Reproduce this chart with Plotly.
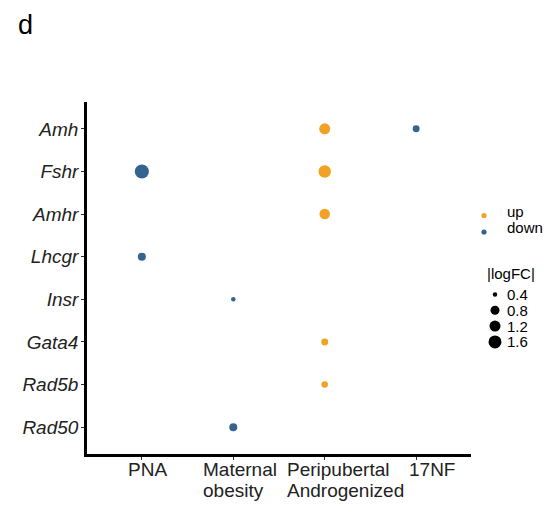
import plotly.graph_objects as go
import numpy as np

genes = ["Amh", "Fshr", "Amhr", "Lhcgr", "Insr", "Gata4", "Rad5b", "Rad50"]
models = ["PNA", "Maternal<br>obesity", "Peripubertal<br>Androgenized", "17NF"]

pt_gene = ["Amh", "Amh", "Fshr", "Fshr", "Amhr", "Lhcgr", "Insr", "Gata4", "Rad5b", "Rad50"]
pt_model = [3, 4, 1, 3, 3, 1, 2, 3, 3, 2]
pt_logfc = [1.2, 0.62, 1.85, 1.5, 1.1, 0.71, 0.4, 0.62, 0.58, 0.71]
pt_dir = ["up", "down", "down", "up", "up", "down", "down", "up", "up", "down"]

directions = ["up", "down"]
legend_sizes = [0.4, 0.8, 1.2, 1.6]

# style: left edge of each (left-aligned) x label block relative to its tick, px
label_xshift = [-15, -31, -39, -8]

COL = {"up": "#F1A124", "down": "#34648F"}
OFF = 8  # page body margin
W, H = 557 - 2 * OFF, 506 - OFF


def size_px(v):
    return np.interp(v, [0.4, 0.8, 1.2, 1.6, 2.0], [4.5, 9.0, 11.0, 13.0, 14.8])


def px(x):
    return (x - OFF) / W


def py(y):
    return 1 - (y - OFF) / H


gene_idx = {g: i + 1 for i, g in enumerate(genes)}

fig = go.Figure()
for d in directions:
    sel = [i for i in range(len(pt_gene)) if pt_dir[i] == d]
    fig.add_trace(go.Scatter(
        x=[pt_model[i] for i in sel],
        y=[gene_idx[pt_gene[i]] for i in sel],
        mode="markers",
        marker=dict(color=COL[d], opacity=1,
                    size=[float(size_px(pt_logfc[i])) for i in sel], line=dict(width=0)),
        showlegend=False, hoverinfo="skip",
    ))

shapes = []
annotations = []
font = "Liberation Sans, Arial, sans-serif"

# x category labels (left-aligned lines under each tick)
for i, lab in enumerate(models):
    for j, line in enumerate(lab.split("<br>")):
        annotations.append(dict(text=line, x=i + 1, xref="x", y=py(469 + 21 * j), yref="paper",
                                xanchor="left", yanchor="middle", xshift=label_xshift[i],
                                showarrow=False, borderpad=0,
                                font=dict(size=19, family=font, color="#222")))

# direction legend
for k, d in enumerate(directions):
    cy = 215.5 + 16.5 * k
    r = 2.6
    shapes.append(dict(type="circle", xref="paper", yref="paper",
                       xsizemode="pixel", ysizemode="pixel",
                       xanchor=px(484), yanchor=py(cy),
                       x0=-r, x1=r, y0=-r, y1=r,
                       fillcolor=COL[d], line=dict(width=0)))
    annotations.append(dict(text=d, x=px(506), y=py(cy - 4), xref="paper", yref="paper",
                            xanchor="left", yanchor="middle", showarrow=False, borderpad=0,
                            font=dict(size=15, family=font, color="black")))

# size legend
annotations.append(dict(text="|logFC|", x=px(486), y=py(273.5), xref="paper", yref="paper",
                        xanchor="left", yanchor="middle", showarrow=False, borderpad=0,
                        font=dict(size=15, family=font, color="black")))
for k, v in enumerate(legend_sizes):
    cy = 294.5 + 15.8 * k
    r = float(size_px(v)) / 2
    shapes.append(dict(type="circle", xref="paper", yref="paper",
                       xsizemode="pixel", ysizemode="pixel",
                       xanchor=px(495), yanchor=py(cy),
                       x0=-r, x1=r, y0=-r, y1=r,
                       fillcolor="black", line=dict(width=0)))
    annotations.append(dict(text=f"{v:.1f}", x=px(506), y=py(cy), xref="paper", yref="paper",
                            xanchor="left", yanchor="middle", showarrow=False, borderpad=0,
                            font=dict(size=15, family=font, color="black")))

annotations.append(dict(text="d", x=px(25), y=py(25), xref="paper", yref="paper",
                        xanchor="center", yanchor="middle", showarrow=False,
                        font=dict(size=27, family=font, color="black")))

fig.update_layout(
    width=W, height=H,
    margin=dict(l=0, r=0, t=0, b=0, autoexpand=False),
    plot_bgcolor="white", paper_bgcolor="white",
    font=dict(family=font, color="black"),
    showlegend=False,
    xaxis=dict(domain=[px(87), px(471)], range=[0.4, 4.6], tickvals=[1, 2, 3, 4],
               showticklabels=False,
               showline=True, linecolor="black", linewidth=2.6, mirror=False,
               ticks="outside", ticklen=3, tickcolor="#333", tickwidth=1,
               showgrid=False, zeroline=False, automargin=False),
    yaxis=dict(domain=[py(454), py(102)], range=[8.63, 0.37], tickvals=list(range(1, 9)),
               ticktext=[f"<i>{g}</i>" for g in genes],
               showline=True, linecolor="black", linewidth=2.6,
               ticks="outside", ticklen=3, tickcolor="#333", tickwidth=1,
               ticklabelstandoff=-1,
               showgrid=False, zeroline=False,
               tickfont=dict(size=19, color="#222"), automargin=False),
    shapes=shapes,
    annotations=annotations,
)

fig.write_html("out.html")
